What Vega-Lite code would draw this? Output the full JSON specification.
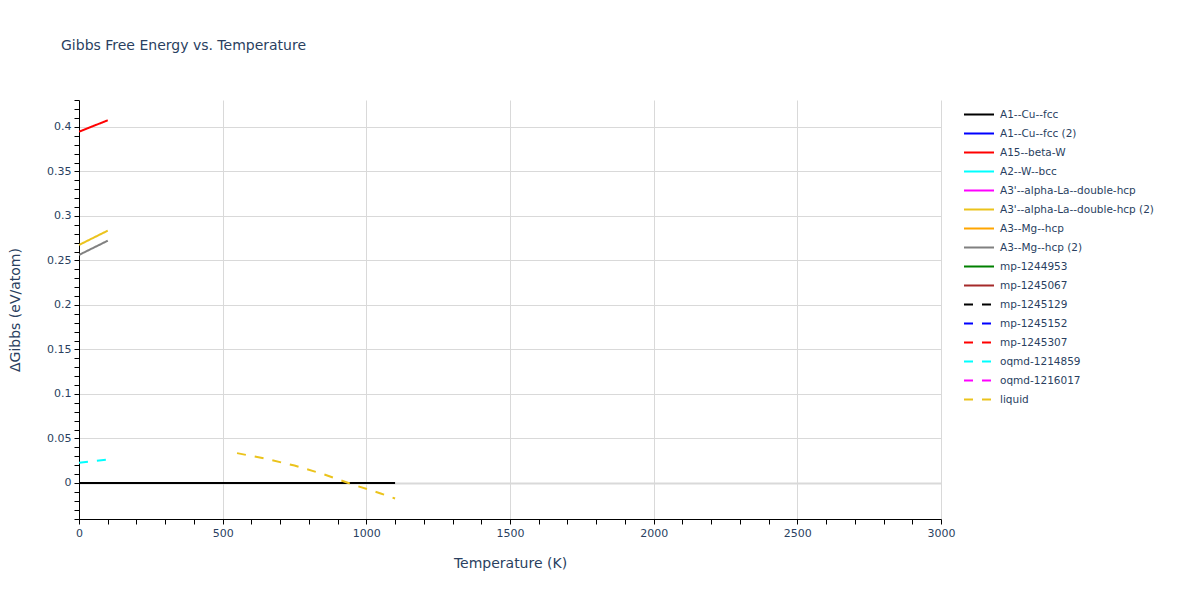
{
  "$schema": "https://vega.github.io/schema/vega-lite/v6.json",
  "description": "Gibbs free energy vs temperature for several phases.",
  "width": 862,
  "height": 419,
  "autosize": {"type": "none"},
  "padding": {"left": 79, "top": 100, "right": 259, "bottom": 81},
  "background": "white",
  "title": {
    "text": "Gibbs Free Energy vs. Temperature",
    "anchor": "start",
    "frame": "group",
    "dx": -18,
    "offset": 41,
    "font": "DejaVu Sans",
    "fontSize": 14,
    "fontWeight": "normal",
    "color": "#2a3f5f"
  },
  "data": {
    "values": [
      {"phase": "A1--Cu--fcc", "T": 0, "G": 0},
      {"phase": "A1--Cu--fcc", "T": 1100, "G": 0},
      {"phase": "A15--beta-W", "T": 0, "G": 0.3947},
      {"phase": "A15--beta-W", "T": 100, "G": 0.4075},
      {"phase": "A3'--alpha-La--double-hcp (2)", "T": 0, "G": 0.2674},
      {"phase": "A3'--alpha-La--double-hcp (2)", "T": 100, "G": 0.2835},
      {"phase": "A3--Mg--hcp (2)", "T": 0, "G": 0.2562},
      {"phase": "A3--Mg--hcp (2)", "T": 100, "G": 0.2722},
      {"phase": "oqmd-1214859", "T": 0, "G": 0.0228},
      {"phase": "oqmd-1214859", "T": 100, "G": 0.0262},
      {"phase": "liquid", "T": 550, "G": 0.0335},
      {"phase": "liquid", "T": 650, "G": 0.0272},
      {"phase": "liquid", "T": 750, "G": 0.0196},
      {"phase": "liquid", "T": 850, "G": 0.0100},
      {"phase": "liquid", "T": 950, "G": -0.0015},
      {"phase": "liquid", "T": 1050, "G": -0.0118},
      {"phase": "liquid", "T": 1100, "G": -0.0174}
    ]
  },
  "mark": {"type": "line", "strokeWidth": 2, "clip": true},
  "encoding": {
    "x": {
      "field": "T",
      "type": "quantitative",
      "title": "Temperature (K)",
      "scale": {"domain": [0, 3000], "nice": false, "zero": false},
      "axis": {
        "values": [0, 100, 200, 300, 400, 500, 600, 700, 800, 900, 1000, 1100, 1200, 1300, 1400, 1500, 1600, 1700, 1800, 1900, 2000, 2100, 2200, 2300, 2400, 2500, 2600, 2700, 2800, 2900, 3000],
        "labelExpr": "datum.value % 500 == 0 ? format(datum.value, 'd') : ''",
        "gridOpacity": {"condition": {"test": "datum.value % 500 == 0 && datum.value > 0", "value": 1}, "value": 0},
        "labelOverlap": false,
        "labelFlush": false,
        "labelPadding": 3,
        "titleY": 44,
        "titleBaseline": "middle"
      }
    },
    "y": {
      "field": "G",
      "type": "quantitative",
      "title": "ΔGibbs (eV/atom)",
      "scale": {"domain": [-0.0405, 0.4303], "nice": false, "zero": false},
      "axis": {
        "values": [-0.04, -0.03, -0.02, -0.01, 0, 0.01, 0.02, 0.03, 0.04, 0.05, 0.06, 0.07, 0.08, 0.09, 0.1, 0.11, 0.12, 0.13, 0.14, 0.15, 0.16, 0.17, 0.18, 0.19, 0.2, 0.21, 0.22, 0.23, 0.24, 0.25, 0.26, 0.27, 0.28, 0.29, 0.3, 0.31, 0.32, 0.33, 0.34, 0.35, 0.36, 0.37, 0.38, 0.39, 0.4, 0.41, 0.42, 0.43],
        "labelExpr": "round(datum.value * 100) % 5 == 0 ? format(datum.value, '~g') : ''",
        "gridOpacity": {"condition": {"test": "round(datum.value * 100) % 5 == 0", "value": 1}, "value": 0},
        "gridWidth": {"condition": {"test": "round(datum.value * 100) == 0", "value": 2}, "value": 1},
        "labelOverlap": false,
        "labelFlush": false,
        "labelPadding": 3,
        "titleX": -64,
        "titleBaseline": "middle"
      }
    },
    "color": {
      "field": "phase",
      "type": "nominal",
      "title": null,
      "scale": {
        "domain": ["A1--Cu--fcc", "A1--Cu--fcc (2)", "A15--beta-W", "A2--W--bcc", "A3'--alpha-La--double-hcp", "A3'--alpha-La--double-hcp (2)", "A3--Mg--hcp", "A3--Mg--hcp (2)", "mp-1244953", "mp-1245067", "mp-1245129", "mp-1245152", "mp-1245307", "oqmd-1214859", "oqmd-1216017", "liquid"],
        "range": ["black", "blue", "red", "cyan", "magenta", "#ebc31c", "orange", "gray", "green", "brown", "black", "blue", "red", "cyan", "magenta", "#ebc31c"]
      },
      "legend": {
        "orient": "none",
        "legendX": 884,
        "legendY": 5,
        "symbolType": "stroke",
        "symbolSize": 900,
        "symbolStrokeWidth": 2,
        "clipHeight": 19,
        "rowPadding": 0,
        "labelOffset": 5,
        "labelFont": "DejaVu Sans",
        "labelFontSize": 10.5,
        "labelColor": "#2a3f5f",
        "labelLimit": 300
      }
    },
    "strokeDash": {
      "field": "phase",
      "type": "nominal",
      "title": null,
      "scale": {
        "domain": ["A1--Cu--fcc", "A1--Cu--fcc (2)", "A15--beta-W", "A2--W--bcc", "A3'--alpha-La--double-hcp", "A3'--alpha-La--double-hcp (2)", "A3--Mg--hcp", "A3--Mg--hcp (2)", "mp-1244953", "mp-1245067", "mp-1245129", "mp-1245152", "mp-1245307", "oqmd-1214859", "oqmd-1216017", "liquid"],
        "range": [[1, 0], [1, 0], [1, 0], [1, 0], [1, 0], [1, 0], [1, 0], [1, 0], [1, 0], [1, 0], [9, 9], [9, 9], [9, 9], [9, 9], [9, 9], [9, 9]]
      }
    }
  },
  "config": {
    "font": "DejaVu Sans",
    "view": {"stroke": null},
    "axis": {
      "labelFont": "DejaVu Sans",
      "labelFontSize": 11,
      "labelColor": "#2a3f5f",
      "titleFont": "DejaVu Sans",
      "titleFontSize": 14,
      "titleFontWeight": "normal",
      "titleColor": "#2a3f5f",
      "domainColor": "black",
      "domainWidth": 1,
      "tickColor": "black",
      "tickSize": 5,
      "gridColor": "#d9d9d9"
    }
  }
}
